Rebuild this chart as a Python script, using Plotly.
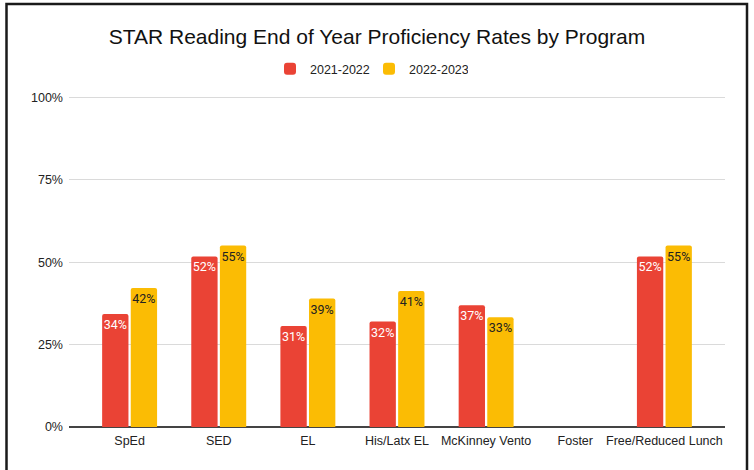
import plotly.graph_objects as go

categories = ["SpEd", "SED", "EL", "His/Latx EL", "McKinney Vento", "Foster", "Free/Reduced Lunch"]
rates_2021_2022 = [0.343, 0.518, 0.307, 0.32, 0.37, None, 0.518]
rates_2022_2023 = [0.422, 0.551, 0.39, 0.413, 0.333, None, 0.551]
series_names = ["2021-2022", "2022-2023"]
y_ticks = [0, 0.25, 0.5, 0.75, 1.0]
y_tick_labels = ["0%", "25%", "50%", "75%", "100%"]

RED = "#EA4335"
YELLOW = "#FBBC04"

W, H = 754, 470
ML, MR, MT, MB = 69, 29, 95, 43
pw = W - ML - MR
ph = H - MT - MB

fig = go.Figure()
fig.add_trace(go.Bar(
    x=categories, y=rates_2021_2022, name=series_names[0],
    marker=dict(color=RED, line=dict(width=0)),
    texttemplate="%{y:.0%}", textposition="inside", insidetextanchor="end",
    textangle=0, constraintext="none",
    textfont=dict(family="Roboto", size=12.5, color="#FFFFFF"),
))
fig.add_trace(go.Bar(
    x=categories, y=rates_2022_2023, name=series_names[1],
    marker=dict(color=YELLOW, line=dict(width=0)),
    texttemplate="%{y:.0%}", textposition="inside", insidetextanchor="end",
    textangle=0, constraintext="none",
    textfont=dict(family="Roboto", size=12.5, color="#212121"),
))

# chart frame (decoration)
def px_to_paper_x(px):
    return (px - ML) / pw

def px_to_paper_y(py):
    return (H - MB - py) / ph

fig.add_shape(type="rect", xref="paper", yref="paper",
              x0=px_to_paper_x(6.5), x1=px_to_paper_x(747),
              y0=px_to_paper_y(520), y1=px_to_paper_y(4),
              line=dict(color="#1a1a1a", width=2.5), fillcolor="rgba(0,0,0,0)",
              layer="above")

fig.update_layout(
    width=W, height=H,
    margin=dict(l=ML, r=MR, t=MT, b=MB, pad=0, autoexpand=False),
    paper_bgcolor="white", plot_bgcolor="white",
    barmode="group", bargap=0.358, bargroupgap=0.08, barcornerradius=2,
    font=dict(family="Liberation Sans, Arial", size=12.5, color="#222222"),
    title=dict(text="STAR Reading End of Year Proficiency Rates by Program",
               x=0.5, xref="container", xanchor="center",
               y=1 - 37 / H, yref="container", yanchor="middle",
               font=dict(family="Liberation Sans, Arial", size=21, color="#111111")),
    legend=dict(orientation="h", x=0.5 - 8 / W, xref="container", xanchor="center",
                y=1 - 69 / H, yref="container", yanchor="middle",
                font=dict(family="Liberation Sans, Arial", size=12.5, color="#222222"),
                entrywidth=54, traceorder="normal"),
    showlegend=True,
    uniformtext=dict(mode=False),
)
fig.update_xaxes(range=[-0.68, 6.68], showgrid=False, ticks="", showline=False,
                 ticklabelstandoff=4, automargin=False,
                 tickfont=dict(size=12.5, color="#222222"))
fig.update_yaxes(range=[0, 1.008], tickvals=y_ticks, ticktext=y_tick_labels,
                 showgrid=True, gridcolor="#DADADA", gridwidth=1,
                 zeroline=True, zerolinecolor="#444444", zerolinewidth=1.5,
                 ticks="", showline=False, ticklabelstandoff=5, automargin=False,
                 tickfont=dict(size=12.5, color="#222222"))

fig.write_html("out.html", config={"displayModeBar": False},
               post_script="document.body.style.margin='0';document.body.style.padding='0';")
